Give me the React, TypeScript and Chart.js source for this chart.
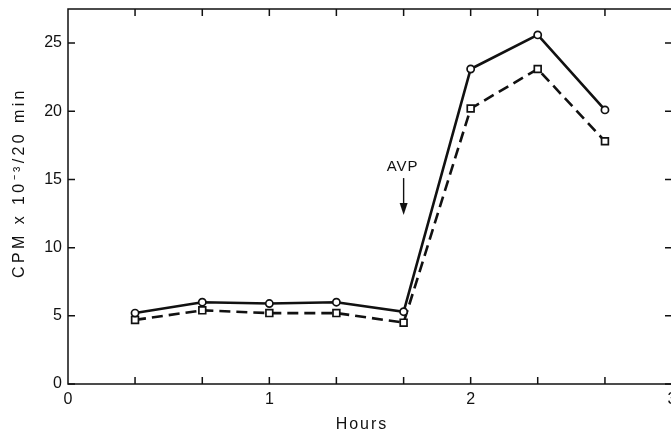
import React, { useEffect, useRef } from "react";
import { Chart, registerables } from "chart.js";

Chart.register(...registerables);

// ---- data ----
const hours = [0.333, 0.667, 1.0, 1.333, 1.667, 2.0, 2.333, 2.667];
const circleSeries = [5.2, 6.0, 5.9, 6.0, 5.3, 23.1, 25.6, 20.1];
const squareSeries = [4.7, 5.4, 5.2, 5.2, 4.5, 20.2, 23.1, 17.8];
const yTickValues = [0, 5, 10, 15, 20, 25];
const xTickValues = [0, 1, 2, 3];
const xMinorTicks = [0.333, 0.667, 1, 1.333, 1.667, 2, 2.333, 2.667];
const xLabel = "Hours";
const yLabel = "CPM x 10⁻³/20 min";
const annotationText = "AVP";
const annotationX = 1.667;
const annotationTextY = 15.9;
const annotationArrowTop = 15.1;
const annotationArrowTip = 12.4;

const INK = "#111";
const FONT = "'Liberation Sans', Arial, Helvetica, sans-serif";

const framePlugin = {
  id: "frameAndTicks",
  afterDraw(chart: any) {
    const { ctx, chartArea, scales } = chart;
    const { left, right, top, bottom } = chartArea;
    const xs = scales.x;
    const ys = scales.y;
    const tl = 7;
    ctx.save();
    ctx.strokeStyle = INK;
    ctx.lineWidth = 1.5;
    ctx.strokeRect(left, top, right - left, bottom - top);
    ctx.beginPath();
    for (const v of yTickValues) {
      const py = ys.getPixelForValue(v);
      ctx.moveTo(left, py);
      ctx.lineTo(left + tl, py);
      ctx.moveTo(right, py);
      ctx.lineTo(right - tl, py);
    }
    for (const v of xMinorTicks) {
      const px = xs.getPixelForValue(v);
      ctx.moveTo(px, bottom);
      ctx.lineTo(px, bottom - tl);
      ctx.moveTo(px, top);
      ctx.lineTo(px, top + tl);
    }
    ctx.stroke();

    // axis titles (real text, letter-spaced like the typeset original)
    ctx.fillStyle = INK;
    ctx.textAlign = "center";
    ctx.textBaseline = "middle";
    (ctx as any).letterSpacing = "2px";
    ctx.font = `16px ${FONT}`;
    ctx.fillText(xLabel, (left + right) / 2 - 8, 425);
    ctx.save();
    (ctx as any).letterSpacing = "3.4px";
    ctx.translate(20, (top + bottom) / 2 - 14);
    ctx.rotate(-Math.PI / 2);
    ctx.fillText(yLabel, 0, 0);
    ctx.restore();

    // AVP annotation with arrow
    const ax = xs.getPixelForValue(annotationX);
    const ty = ys.getPixelForValue(annotationTextY);
    const at = ys.getPixelForValue(annotationArrowTop);
    const ap = ys.getPixelForValue(annotationArrowTip);
    (ctx as any).letterSpacing = "1px";
    ctx.font = `15px ${FONT}`;
    ctx.fillText(annotationText, ax - 1, ty);
    (ctx as any).letterSpacing = "0px";
    ctx.lineWidth = 1.4;
    ctx.beginPath();
    ctx.moveTo(ax, at);
    ctx.lineTo(ax, ap - 10);
    ctx.stroke();
    ctx.beginPath();
    ctx.moveTo(ax - 4, ap - 12);
    ctx.lineTo(ax + 4, ap - 12);
    ctx.lineTo(ax, ap);
    ctx.closePath();
    ctx.fill();
    ctx.restore();
  },
};

export default function App() {
  const ref = useRef<HTMLCanvasElement>(null);
  useEffect(() => {
    document.body.style.margin = "0";
    document.body.style.overflow = "hidden";
    const chart = new Chart(ref.current!, {
      type: "line",
      data: {
        datasets: [
          {
            label: "circles",
            data: hours.map((x, i) => ({ x, y: circleSeries[i] })),
            borderColor: INK,
            borderWidth: 2.6,
            pointStyle: "circle",
            pointRadius: 3.6,
            pointBackgroundColor: "#fff",
            pointBorderColor: INK,
            pointBorderWidth: 1.7,
            tension: 0,
          },
          {
            label: "squares",
            data: hours.map((x, i) => ({ x, y: squareSeries[i] })),
            borderColor: INK,
            borderWidth: 2.6,
            borderDash: [11, 6],
            pointStyle: "rect",
            pointRadius: 4.8,
            pointBackgroundColor: "#fff",
            pointBorderColor: INK,
            pointBorderWidth: 1.7,
            tension: 0,
          },
        ],
      },
      options: {
        responsive: false,
        animation: false,
        layout: { padding: { top: 9, right: 28, left: 0, bottom: 0 } },
        plugins: { legend: { display: false }, tooltip: { enabled: false } },
        scales: {
          x: {
            type: "linear",
            min: 0,
            max: 3,
            afterFit: (s: any) => {
              s.height = 52;
              s.paddingLeft = 0;
              s.paddingRight = 0;
            },
            afterBuildTicks: (s: any) => {
              s.ticks = xTickValues.map((v) => ({ value: v }));
            },
            grid: { display: false, drawTicks: false },
            border: { display: false },
            ticks: {
              color: INK,
              padding: 6,
              maxRotation: 0,
              font: { family: FONT, size: 16 },
              callback: (v: any) => String(v),
            },
            title: { display: false },
          },
          y: {
            type: "linear",
            min: 0,
            max: 27.5,
            afterFit: (s: any) => {
              s.width = 68;
              s.paddingTop = 0;
              s.paddingBottom = 0;
            },
            afterBuildTicks: (s: any) => {
              s.ticks = yTickValues.map((v) => ({ value: v }));
            },
            grid: { display: false, drawTicks: false },
            border: { display: false },
            ticks: {
              color: INK,
              padding: 6,
              font: { family: FONT, size: 16 },
              callback: (v: any) => String(v),
            },
            title: { display: false },
          },
        },
      },
      plugins: [framePlugin],
    });
    return () => chart.destroy();
  }, []);
  return (
    <div style={{ width: 671, height: 436, overflow: "hidden", background: "#fff" }}>
      <canvas ref={ref} width={700} height={436} style={{ display: "block" }} />
    </div>
  );
}
